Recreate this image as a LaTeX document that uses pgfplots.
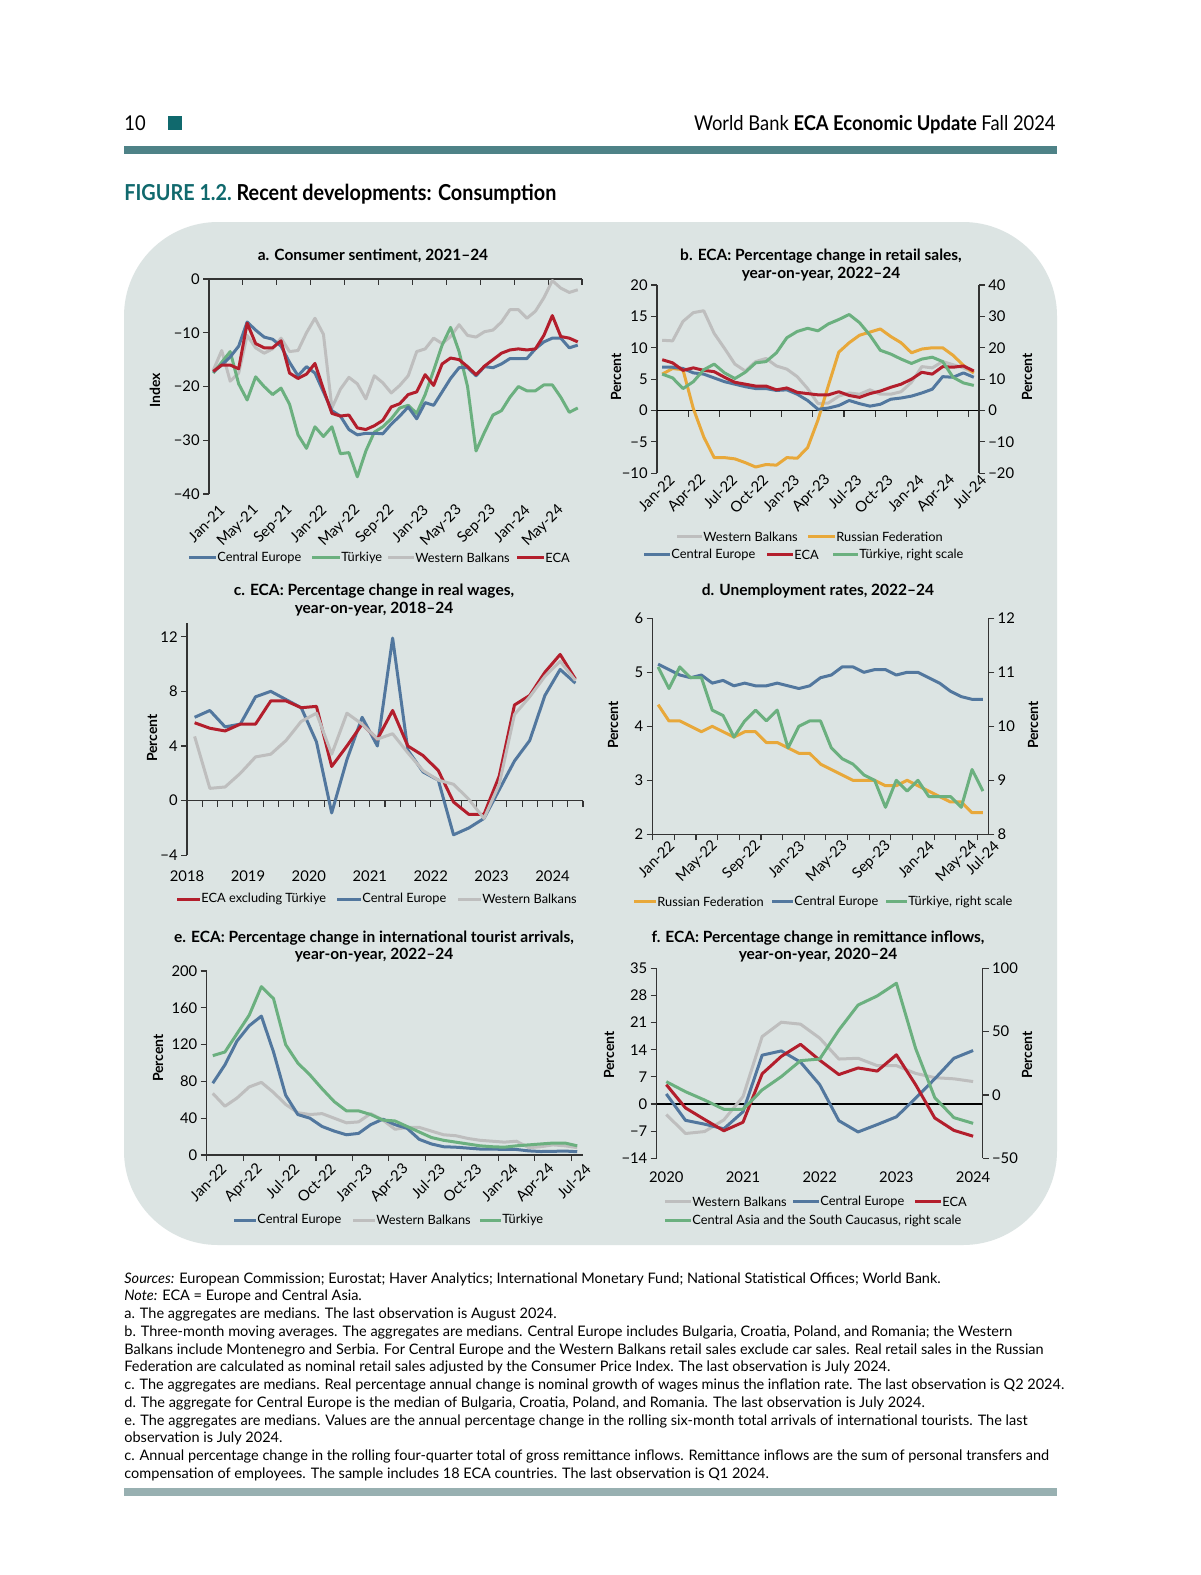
\documentclass[border=0pt]{standalone}
\usepackage{fontspec}
\setmainfont{Lato}
\newfontfamily\condfont[FakeStretch=0.9]{Lato}
\usepackage{pgfplots}
\pgfplotsset{compat=1.18}

\definecolor{ceblue}{HTML}{52779E}
\definecolor{tkgreen}{HTML}{6BB07F}
\definecolor{wbgray}{HTML}{BEBEBE}
\definecolor{ecared}{HTML}{B31E2C}
\definecolor{rusor}{HTML}{E8A83A}
\definecolor{axc}{HTML}{333333}
\definecolor{bgpanel}{HTML}{DCE4E3}
\definecolor{topbar}{HTML}{4E8287}
\definecolor{botbar}{HTML}{98B0B1}
\definecolor{teal}{HTML}{10696D}

\newcommand\tickfont{\fontsize{7.4}{8}\selectfont}
\newcommand\legfont{\fontsize{6.4}{7}\selectfont}
\newcommand\titfont{\fontsize{7.75}{8.75}\selectfont\bfseries}

% legend sample: x1, x2, y (pixels), colour, text
\newcommand\leg[5]{%
  \draw[#4, line width=1.5pt] (#1,#3) -- (#2,#3);
  \node[anchor=west, inner sep=0.5pt, font=\legfont] at (#2,#3) {#5};}
\newcommand\ylab[3]{\node[rotate=90, font=\fontsize{7}{8}\selectfont\bfseries] at (#1,#2) {#3};}

\pgfplotsset{
  base/.style={
    scale only axis, anchor=south west, clip=false,
    axis x line*=bottom, axis y line*=left,
    axis line style={draw=axc, line width=0.55pt, -},
    tick style={draw=axc, line width=0.55pt},
    tick align=outside, major tick length=3pt,
    ticklabel style={font=\tickfont},
    /pgf/number format/assume math mode=true,
    yticklabel style={inner sep=1.5pt},
    every axis plot/.append style={line width=1.5pt, line join=round, mark=none},
  },
  nox/.style={x axis line style={draw=none}, xtick style={draw=none}},
  % shifts first (page frame), then the turn
  monthlab/.style 2 args={xticklabel style={xshift=#1, yshift=#2, rotate=45, anchor=east}},
}

\begin{document}
\begin{tikzpicture}
\begin{scope}[x=0.5pt, y=-0.5pt]
\useasboundingbox (0,0) rectangle (1200,1575);
\fill[white] (0,0) rectangle (1200,1575);
% page header
\node[anchor=base west, inner sep=0, font=\condfont\fontsize{10.2}{11}\selectfont] at (124,130) {10};
\fill[teal] (167.5,116) rectangle (181.5,129.5);
\node[anchor=base east, inner sep=0, font=\condfont\fontsize{10.2}{11}\selectfont] at (1056,130)
  {World Bank \textbf{ECA Economic Update} Fall 2024};
\fill[topbar] (124,145.5) rectangle (1057,153.5);
\node[anchor=base west, inner sep=0, font=\condfont\fontsize{11}{12}\selectfont\bfseries] at (124,200)
  {\textcolor{teal}{FIGURE 1.2.}\ Recent developments: Consumption};
\fill[bgpanel, rounded corners=47pt] (124,222) rectangle (1057,1245);
\end{scope}

%% a. consumer sentiment
\begin{axis}[base, nox, monthlab={9pt}{-1.5pt}, at={(104.5pt,-247pt)}, width=186.5pt, height=107.5pt,
  xmin=0, xmax=44, ymin=-40, ymax=0,
  xtick={0,4,...,40},
  xticklabels={Jan-21,May-21,Sep-21,Jan-22,May-22,Sep-22,Jan-23,May-23,Sep-23,Jan-24,May-24},
  ytick={-40,-30,-20,-10,0}, yticklabels={−40,−30,−20,−10,0}]
\draw[axc, line width=0.55pt] (axis cs:0,0) -- (axis cs:44,0);
\pgfplotsinvokeforeach{4,8,...,44}{\draw[axc, line width=0.55pt] (axis cs:#1,0) -- ++(0pt,-3pt);}
\addplot[wbgray] coordinates {(0.5,-17)(1.5,-13.3)(2.5,-19)(3.5,-17.5)(4.5,-10.5)(5.5,-12.8)(6.5,-13.8)(7.5,-13)(8.5,-11)(9.5,-13.5)(10.5,-13.3)(11.5,-10)(12.5,-7.3)(13.5,-10.3)(14.5,-24)(15.5,-20.5)(16.5,-18.3)(17.5,-19.5)(18.5,-22.3)(19.5,-18)(20.5,-19.3)(21.5,-21.2)(22.5,-19.8)(23.5,-18)(24.5,-13.5)(25.5,-13)(26.5,-11)(27.5,-12)(28.5,-10.7)(29.5,-8.5)(30.5,-10.5)(31.5,-10.8)(32.5,-9.8)(33.5,-9.5)(34.5,-8)(35.5,-5.7)(36.5,-5.7)(37.5,-7.3)(38.5,-6)(39.5,-3.5)(40.5,-0.3)(41.5,-1.7)(42.5,-2.5)(43.5,-2)};
\addplot[tkgreen] coordinates {(0.5,-17.5)(1.5,-15.5)(2.5,-13.5)(3.5,-19.5)(4.5,-22.5)(5.5,-18.2)(6.5,-20)(7.5,-21.5)(8.5,-20.3)(9.5,-23.3)(10.5,-29)(11.5,-31.5)(12.5,-27.5)(13.5,-29.3)(14.5,-27.5)(15.5,-32.5)(16.5,-32.3)(17.5,-36.8)(18.5,-32)(19.5,-28.5)(20.5,-27.5)(21.5,-26)(22.5,-24)(23.5,-23.5)(24.5,-25)(25.5,-21.5)(26.5,-17)(27.5,-12.3)(28.5,-9)(29.5,-13.5)(30.5,-20)(31.5,-32)(32.5,-28.5)(33.5,-25.3)(34.5,-24.5)(35.5,-22)(36.5,-20)(37.5,-20.8)(38.5,-20.8)(39.5,-19.7)(40.5,-19.7)(41.5,-22)(42.5,-24.8)(43.5,-24)};
\addplot[ceblue] coordinates {(0.5,-17.3)(1.5,-16)(2.5,-14.5)(3.5,-12.5)(4.5,-8)(5.5,-9.5)(6.5,-10.8)(7.5,-11.2)(8.5,-12.5)(9.5,-15.5)(10.5,-18)(11.5,-16.3)(12.5,-17.5)(13.5,-21)(14.5,-24.5)(15.5,-25.5)(16.5,-28)(17.5,-29)(18.5,-28.7)(19.5,-28.7)(20.5,-28.8)(21.5,-27)(22.5,-25.5)(23.5,-23.8)(24.5,-26)(25.5,-23)(26.5,-23.5)(27.5,-21)(28.5,-18.5)(29.5,-16.5)(30.5,-16.5)(31.5,-18)(32.5,-16.3)(33.5,-16.5)(34.5,-15.8)(35.5,-14.8)(36.5,-14.8)(37.5,-14.8)(38.5,-13)(39.5,-11.7)(40.5,-11)(41.5,-11)(42.5,-12.8)(43.5,-12.3)};
\addplot[ecared] coordinates {(0.5,-17.2)(1.5,-16)(2.5,-16)(3.5,-16.7)(4.5,-8.2)(5.5,-12)(6.5,-12.8)(7.5,-12.8)(8.5,-11.5)(9.5,-17.5)(10.5,-18.5)(11.5,-17.7)(12.5,-15.7)(13.5,-20.5)(14.5,-25)(15.5,-25.5)(16.5,-25.3)(17.5,-27.7)(18.5,-28)(19.5,-27.3)(20.5,-26.3)(21.5,-23.8)(22.5,-23.2)(23.5,-21.5)(24.5,-21)(25.5,-17.8)(26.5,-19.8)(27.5,-15.8)(28.5,-14.7)(29.5,-15)(30.5,-16.3)(31.5,-17.8)(32.5,-16.2)(33.5,-15)(34.5,-13.8)(35.5,-13.2)(36.5,-13)(37.5,-13.2)(38.5,-13)(39.5,-10.5)(40.5,-6.8)(41.5,-10.7)(42.5,-11)(43.5,-11.7)};
\end{axis}

%% b. retail sales
\begin{axis}[base, nox, monthlab={10pt}{3.5pt}, at={(328.5pt,-236.65pt)}, width=161pt, height=94.15pt,
  xmin=0, xmax=31, ymin=-10, ymax=20,
  xtick={0,3,...,30},
  xticklabels={Jan-22,Apr-22,Jul-22,Oct-22,Jan-23,Apr-23,Jul-23,Oct-23,Jan-24,Apr-24,Jul-24},
  ytick={-10,-5,0,5,10,15,20}, yticklabels={−10,−5,0,5,10,15,20}]
\draw[black, line width=0.55pt] (axis cs:0,0) -- (axis cs:31,0);
\pgfplotsinvokeforeach{3,6,...,30}{\draw[axc, line width=0.55pt] (axis cs:#1,0) -- ++(0pt,-3pt);}
\addplot[wbgray] coordinates {(0.5,11.2)(1.5,11.1)(2.5,14.2)(3.5,15.6)(4.5,15.9)(5.5,12.3)(6.5,9.9)(7.5,7.4)(8.5,6.3)(9.5,7.8)(10.5,8.3)(11.5,7.1)(12.5,6.6)(13.5,5.4)(14.5,3.5)(15.5,1.1)(16.5,1.2)(17.5,2.3)(18.5,2.8)(19.5,2.6)(20.5,3.3)(21.5,2.6)(22.5,2.6)(23.5,3.0)(24.5,4.5)(25.5,7.0)(26.5,6.8)(27.5,7.8)(28.5,7.3)(29.5,6.8)(30.5,6.0)};
\addplot[rusor] coordinates {(0.5,5.8)(1.5,6.7)(2.5,6.5)(3.5,0.3)(4.5,-4.2)(5.5,-7.5)(6.5,-7.5)(7.5,-7.7)(8.5,-8.3)(9.5,-9)(10.5,-8.6)(11.5,-8.7)(12.5,-7.5)(13.5,-7.6)(14.5,-5.9)(15.5,-1.5)(16.5,4.0)(17.5,9.3)(18.5,10.8)(19.5,12)(20.5,12.5)(21.5,13)(22.5,11.8)(23.5,10.8)(24.5,9.2)(25.5,9.8)(26.5,10)(27.5,10)(28.5,8.8)(29.5,7.2)(30.5,6.0)};
\addplot[ceblue] coordinates {(0.5,6.9)(1.5,6.9)(2.5,6.7)(3.5,6.0)(4.5,5.8)(5.5,5.2)(6.5,4.6)(7.5,4.2)(8.5,3.8)(9.5,3.5)(10.5,3.5)(11.5,3.2)(12.5,3.3)(13.5,2.6)(14.5,1.6)(15.5,0.2)(16.5,0.4)(17.5,0.8)(18.5,1.6)(19.5,1.1)(20.5,0.7)(21.5,1.0)(22.5,1.8)(23.5,2.0)(24.5,2.3)(25.5,2.8)(26.5,3.4)(27.5,5.4)(28.5,5.3)(29.5,6.0)(30.5,5.3)};
\addplot[ecared] coordinates {(0.5,8.1)(1.5,7.6)(2.5,6.4)(3.5,6.8)(4.5,6.4)(5.5,6.2)(6.5,5.3)(7.5,4.5)(8.5,4.2)(9.5,3.9)(10.5,3.9)(11.5,3.3)(12.5,3.6)(13.5,2.9)(14.5,2.7)(15.5,2.5)(16.5,2.5)(17.5,3.0)(18.5,2.4)(19.5,2.1)(20.5,2.7)(21.5,3.1)(22.5,3.7)(23.5,4.2)(24.5,5.0)(25.5,6.1)(26.5,5.8)(27.5,7.0)(28.5,6.9)(29.5,7.1)(30.5,6.3)};
\end{axis}
\begin{axis}[base, at={(328.5pt,-236.65pt)}, width=161pt, height=94.15pt,
  axis x line=none, axis y line*=right,
  xmin=0, xmax=31, ymin=-20, ymax=40,
  ytick={-20,-10,0,10,20,30,40}, yticklabels={−20,−10,0,10,20,30,40}]
\addplot[tkgreen] coordinates {(0.5,11.6)(1.5,10.4)(2.5,7)(3.5,9.2)(4.5,13)(5.5,14.8)(6.5,12)(7.5,10.2)(8.5,12.2)(9.5,15.2)(10.5,15.6)(11.5,18.4)(12.5,23.2)(13.5,25.2)(14.5,26.2)(15.5,25.4)(16.5,27.6)(17.5,29)(18.5,30.6)(19.5,28)(20.5,24)(21.5,19.2)(22.5,18)(23.5,16.4)(24.5,15)(25.5,16.4)(26.5,17)(27.5,15.6)(28.5,10.6)(29.5,8.8)(30.5,8)};
\end{axis}

%% c. real wages
\begin{axis}[base, nox, at={(93.5pt,-427.65pt)}, width=198pt, height=116.15pt,
  xmin=0, xmax=26, ymin=-4, ymax=13,
  xtick={0,4,...,24}, xticklabels={2018,2019,2020,2021,2022,2023,2024},
  xticklabel style={yshift=-1pt},
  ytick={-4,0,4,8,12}, yticklabels={−4,0,4,8,12}]
\draw[axc, line width=0.55pt] (axis cs:0,0) -- (axis cs:26,0);
\pgfplotsinvokeforeach{1,...,26}{\draw[axc, line width=0.55pt] (axis cs:#1,0) -- ++(0pt,-3pt);}
\addplot[ceblue] coordinates {(0.5,6.1)(1.5,6.6)(2.5,5.4)(3.5,5.6)(4.5,7.6)(5.5,8.0)(6.5,7.4)(7.5,6.8)(8.5,4.3)(9.5,-0.9)(10.5,3.0)(11.5,6.1)(12.5,4.0)(13.5,11.9)(14.5,3.7)(15.5,2.1)(16.5,1.5)(17.5,-2.5)(18.5,-2.0)(19.5,-1.3)(20.5,0.8)(21.5,2.9)(22.5,4.4)(23.5,7.7)(24.5,9.6)(25.5,8.6)};
\addplot[ecared] coordinates {(0.5,5.7)(1.5,5.3)(2.5,5.1)(3.5,5.6)(4.5,5.6)(5.5,7.3)(6.5,7.3)(7.5,6.8)(8.5,6.9)(9.5,2.5)(10.5,4.0)(11.5,5.6)(12.5,4.5)(13.5,6.6)(14.5,4.0)(15.5,3.3)(16.5,2.2)(17.5,-0.1)(18.5,-1.0)(19.5,-1.0)(20.5,1.8)(21.5,7.0)(22.5,7.7)(23.5,9.4)(24.5,10.7)(25.5,8.9)};
\addplot[wbgray] coordinates {(0.5,4.7)(1.5,0.9)(2.5,1.0)(3.5,2.0)(4.5,3.2)(5.5,3.4)(6.5,4.4)(7.5,5.8)(8.5,6.4)(9.5,3.4)(10.5,6.4)(11.5,5.6)(12.5,4.5)(13.5,4.9)(14.5,3.5)(15.5,2.2)(16.5,1.5)(17.5,1.2)(18.5,0.1)(19.5,-1.3)(20.5,1.2)(21.5,6.3)(22.5,7.6)(23.5,9.1)(24.5,10.2)(25.5,8.8)};
\end{axis}

%% d. unemployment
\begin{axis}[base, monthlab={12pt}{1pt}, at={(326.35pt,-417.15pt)}, width=167.8pt, height=108pt,
  xmin=0, xmax=31, ymin=2, ymax=6,
  xtick={0,2,...,30},
  xticklabels={Jan-22,,May-22,,Sep-22,,Jan-23,,May-23,,Sep-23,,Jan-24,,May-24,Jul-24},
  ytick={2,3,4,5,6}]
\addplot[rusor] coordinates {(0.5,4.4)(1.5,4.1)(2.5,4.1)(3.5,4.0)(4.5,3.9)(5.5,4.0)(6.5,3.9)(7.5,3.8)(8.5,3.9)(9.5,3.9)(10.5,3.7)(11.5,3.7)(12.5,3.6)(13.5,3.5)(14.5,3.5)(15.5,3.3)(16.5,3.2)(17.5,3.1)(18.5,3.0)(19.5,3.0)(20.5,3.0)(21.5,2.9)(22.5,2.9)(23.5,3.0)(24.5,2.9)(25.5,2.8)(26.5,2.7)(27.5,2.6)(28.5,2.6)(29.5,2.4)(30.5,2.4)};
\addplot[ceblue] coordinates {(0.5,5.15)(1.5,5.05)(2.5,4.95)(3.5,4.9)(4.5,4.95)(5.5,4.8)(6.5,4.85)(7.5,4.75)(8.5,4.8)(9.5,4.75)(10.5,4.75)(11.5,4.8)(12.5,4.75)(13.5,4.7)(14.5,4.75)(15.5,4.9)(16.5,4.95)(17.5,5.1)(18.5,5.1)(19.5,5.0)(20.5,5.05)(21.5,5.05)(22.5,4.95)(23.5,5.0)(24.5,5.0)(25.5,4.9)(26.5,4.8)(27.5,4.65)(28.5,4.55)(29.5,4.5)(30.5,4.5)};
\end{axis}
\begin{axis}[base, at={(326.35pt,-417.15pt)}, width=167.8pt, height=108pt,
  axis x line=none, axis y line*=right,
  xmin=0, xmax=31, ymin=8, ymax=12, ytick={8,9,10,11,12}]
\addplot[tkgreen] coordinates {(0.5,11.1)(1.5,10.7)(2.5,11.1)(3.5,10.9)(4.5,10.9)(5.5,10.3)(6.5,10.2)(7.5,9.8)(8.5,10.1)(9.5,10.3)(10.5,10.1)(11.5,10.3)(12.5,9.6)(13.5,10.0)(14.5,10.1)(15.5,10.1)(16.5,9.6)(17.5,9.4)(18.5,9.3)(19.5,9.1)(20.5,9.0)(21.5,8.5)(22.5,9.0)(23.5,8.8)(24.5,9.0)(25.5,8.7)(26.5,8.7)(27.5,8.7)(28.5,8.5)(29.5,9.2)(30.5,8.8)};
\end{axis}

%% e. tourist arrivals
\begin{axis}[base, monthlab={11pt}{-0.5pt}, at={(103.35pt,-577.5pt)}, width=188.3pt, height=92pt,
  xmin=0, xmax=31, ymin=0, ymax=200,
  xtick={0,3,...,30},
  xticklabels={Jan-22,Apr-22,Jul-22,Oct-22,Jan-23,Apr-23,Jul-23,Oct-23,Jan-24,Apr-24,Jul-24},
  ytick={0,40,...,200}]
\addplot[wbgray] coordinates {(0.5,67)(1.5,53)(2.5,62)(3.5,74)(4.5,79)(5.5,68)(6.5,55)(7.5,46)(8.5,44)(9.5,45)(10.5,40)(11.5,35)(12.5,36)(13.5,45)(14.5,38)(15.5,28)(16.5,30)(17.5,30)(18.5,26)(19.5,22)(20.5,21)(21.5,18)(22.5,16)(23.5,15)(24.5,14)(25.5,15)(26.5,8)(27.5,9)(28.5,11)(29.5,10)(30.5,8)};
\addplot[ceblue] coordinates {(0.5,78)(1.5,98)(2.5,124)(3.5,140.5)(4.5,151)(5.5,112)(6.5,65)(7.5,44)(8.5,40)(9.5,31)(10.5,26)(11.5,22)(12.5,23.5)(13.5,33)(14.5,39)(15.5,33)(16.5,29)(17.5,17)(18.5,12)(19.5,9)(20.5,8.5)(21.5,7.5)(22.5,6.5)(23.5,6.5)(24.5,6)(25.5,6)(26.5,4.5)(27.5,3.8)(28.5,4)(29.5,4.3)(30.5,3.6)};
\addplot[tkgreen] coordinates {(0.5,108)(1.5,112)(2.5,132)(3.5,152)(4.5,183)(5.5,170)(6.5,120)(7.5,100)(8.5,87)(9.5,72)(10.5,58)(11.5,48)(12.5,48)(13.5,44)(14.5,38)(15.5,37)(16.5,31)(17.5,25)(18.5,19)(19.5,16)(20.5,14)(21.5,12)(22.5,10)(23.5,9)(24.5,8.5)(25.5,10)(26.5,11)(27.5,12)(28.5,13)(29.5,13)(30.5,10)};
\end{axis}

%% f. remittances
\begin{axis}[base, nox, at={(328.35pt,-579.15pt)}, width=163pt, height=95pt,
  xmin=-0.5, xmax=16.5, ymin=-14, ymax=35,
  xtick={0,4,8,12,16}, xticklabels={2020,2021,2022,2023,2024},
  ytick={-14,-7,0,7,14,21,28,35}, yticklabels={−14,−7,0,7,14,21,28,35}]
\draw[black, line width=0.7pt] (axis cs:-0.5,0) -- (axis cs:16.5,0);
\addplot[wbgray] coordinates {(0,-2.7)(1,-7.6)(2,-7.1)(3,-4.1)(4,1.9)(5,17.4)(6,21.1)(7,20.6)(8,17)(9,11.6)(10,11.8)(11,9.9)(12,9.9)(13,7.9)(14,6.8)(15,6.5)(16,5.8)};
\addplot[ceblue] coordinates {(0,2.6)(1,-4.2)(2,-5.2)(3,-6.4)(4,-2.0)(5,12.6)(6,13.7)(7,10.8)(8,5.0)(9,-4.3)(10,-7.2)(11,-5.3)(12,-3.3)(13,1.5)(14,6.5)(15,11.8)(16,13.8)};
\addplot[ecared] coordinates {(0,5.0)(1,-1.0)(2,-4.0)(3,-6.9)(4,-4.7)(5,7.8)(6,12.3)(7,15.4)(8,11.3)(9,7.6)(10,9.3)(11,8.5)(12,12.7)(13,5.0)(14,-3.6)(15,-6.8)(16,-8.3)};
\end{axis}
\begin{axis}[base, at={(328.35pt,-579.15pt)}, width=163pt, height=95pt,
  axis x line=none, axis y line*=right,
  xmin=-0.5, xmax=16.5, ymin=-50, ymax=100,
  ytick={-50,0,50,100}, yticklabels={−50,0,50,100}]
\addplot[tkgreen] coordinates {(0,10.5)(1,2.6)(2,-4)(3,-11.3)(4,-11.3)(5,4.0)(6,14.5)(7,27.1)(8,28.4)(9,51.3)(10,71)(11,78.2)(12,88.2)(13,36.8)(14,-2.1)(15,-17.9)(16,-22.4)};
\end{axis}

\begin{scope}[x=0.5pt, y=-0.5pt]
% panel titles
\node[font=\titfont] at (373,256) {a. Consumer sentiment, 2021–24};
\node[font=\titfont, align=center] at (821,265) {b. ECA: Percentage change in retail sales,\\year-on-year, 2022–24};
\node[font=\titfont, align=center] at (374,600) {c. ECA: Percentage change in real wages,\\year-on-year, 2018–24};
\node[font=\titfont] at (818,591) {d. Unemployment rates, 2022–24};
\node[font=\titfont, align=center] at (374,946.5) {e. ECA: Percentage change in international tourist arrivals,\\year-on-year, 2022–24};
\node[font=\titfont, align=center] at (818,946.5) {f. ECA: Percentage change in remittance inflows,\\year-on-year, 2020–24};
% axis titles
\ylab{155}{390}{Index}
\ylab{616}{377}{Percent}
\ylab{1027}{377}{Percent}
\ylab{152}{738}{Percent}
\ylab{613}{725}{Percent}
\ylab{1033}{725}{Percent}
\ylab{158}{1058}{Percent}
\ylab{609}{1055}{Percent}
\ylab{1027}{1055}{Percent}
% legends
\leg{189}{216}{557.5}{ceblue}{Central Europe}
\leg{312}{340}{557.5}{tkgreen}{Türkiye}
\leg{388}{414}{557.5}{wbgray}{Western Balkans}
\leg{517}{544}{557.5}{ecared}{ECA}
\leg{677}{702}{536.5}{wbgray}{Western Balkans}
\leg{808}{835}{536.5}{rusor}{Russian Federation}
\leg{644}{670}{554.5}{ceblue}{Central Europe}
\leg{767}{793}{554.5}{ecared}{ECA}
\leg{833}{858}{554.5}{tkgreen}{Türkiye, right scale}
\leg{177}{200}{899}{ecared}{ECA excluding Türkiye}
\leg{337}{361}{899}{ceblue}{Central Europe}
\leg{458}{481}{899}{wbgray}{Western Balkans}
\leg{634}{656}{901.5}{rusor}{Russian Federation}
\leg{772}{793}{901.5}{ceblue}{Central Europe}
\leg{886}{907}{901.5}{tkgreen}{Türkiye, right scale}
\leg{234}{256}{1220}{ceblue}{Central Europe}
\leg{353}{375}{1220}{wbgray}{Western Balkans}
\leg{480}{501}{1220}{tkgreen}{Türkiye}
\leg{665}{691}{1201.5}{wbgray}{Western Balkans}
\leg{793}{819}{1201.5}{ceblue}{Central Europe}
\leg{915}{941}{1201.5}{ecared}{ECA}
\leg{665}{691}{1220.5}{tkgreen}{Central Asia and the South Caucasus, right scale}
% notes
\node[anchor=north west, inner sep=0, align=left, font=\fontsize{7.25}{8.875}\selectfont] at (124,1272) {%
\textit{Sources:} European Commission; Eurostat; Haver Analytics; International Monetary Fund; National Statistical Offices; World Bank.\\
\textit{Note:} ECA = Europe and Central Asia.\\
a. The aggregates are medians. The last observation is August 2024.\\
b. Three-month moving averages. The aggregates are medians. Central Europe includes Bulgaria, Croatia, Poland, and Romania; the Western\\
Balkans include Montenegro and Serbia. For Central Europe and the Western Balkans retail sales exclude car sales. Real retail sales in the Russian\\
Federation are calculated as nominal retail sales adjusted by the Consumer Price Index. The last observation is July 2024.\\
c. The aggregates are medians. Real percentage annual change is nominal growth of wages minus the inflation rate. The last observation is Q2 2024.\\
d. The aggregate for Central Europe is the median of Bulgaria, Croatia, Poland, and Romania. The last observation is July 2024.\\
e. The aggregates are medians. Values are the annual percentage change in the rolling six-month total arrivals of international tourists. The last\\
observation is July 2024.\\
c. Annual percentage change in the rolling four-quarter total of gross remittance inflows. Remittance inflows are the sum of personal transfers and\\
compensation of employees. The sample includes 18 ECA countries. The last observation is Q1 2024.};
\fill[botbar] (124,1488) rectangle (1057,1496);
\end{scope}
\end{tikzpicture}
\end{document}
